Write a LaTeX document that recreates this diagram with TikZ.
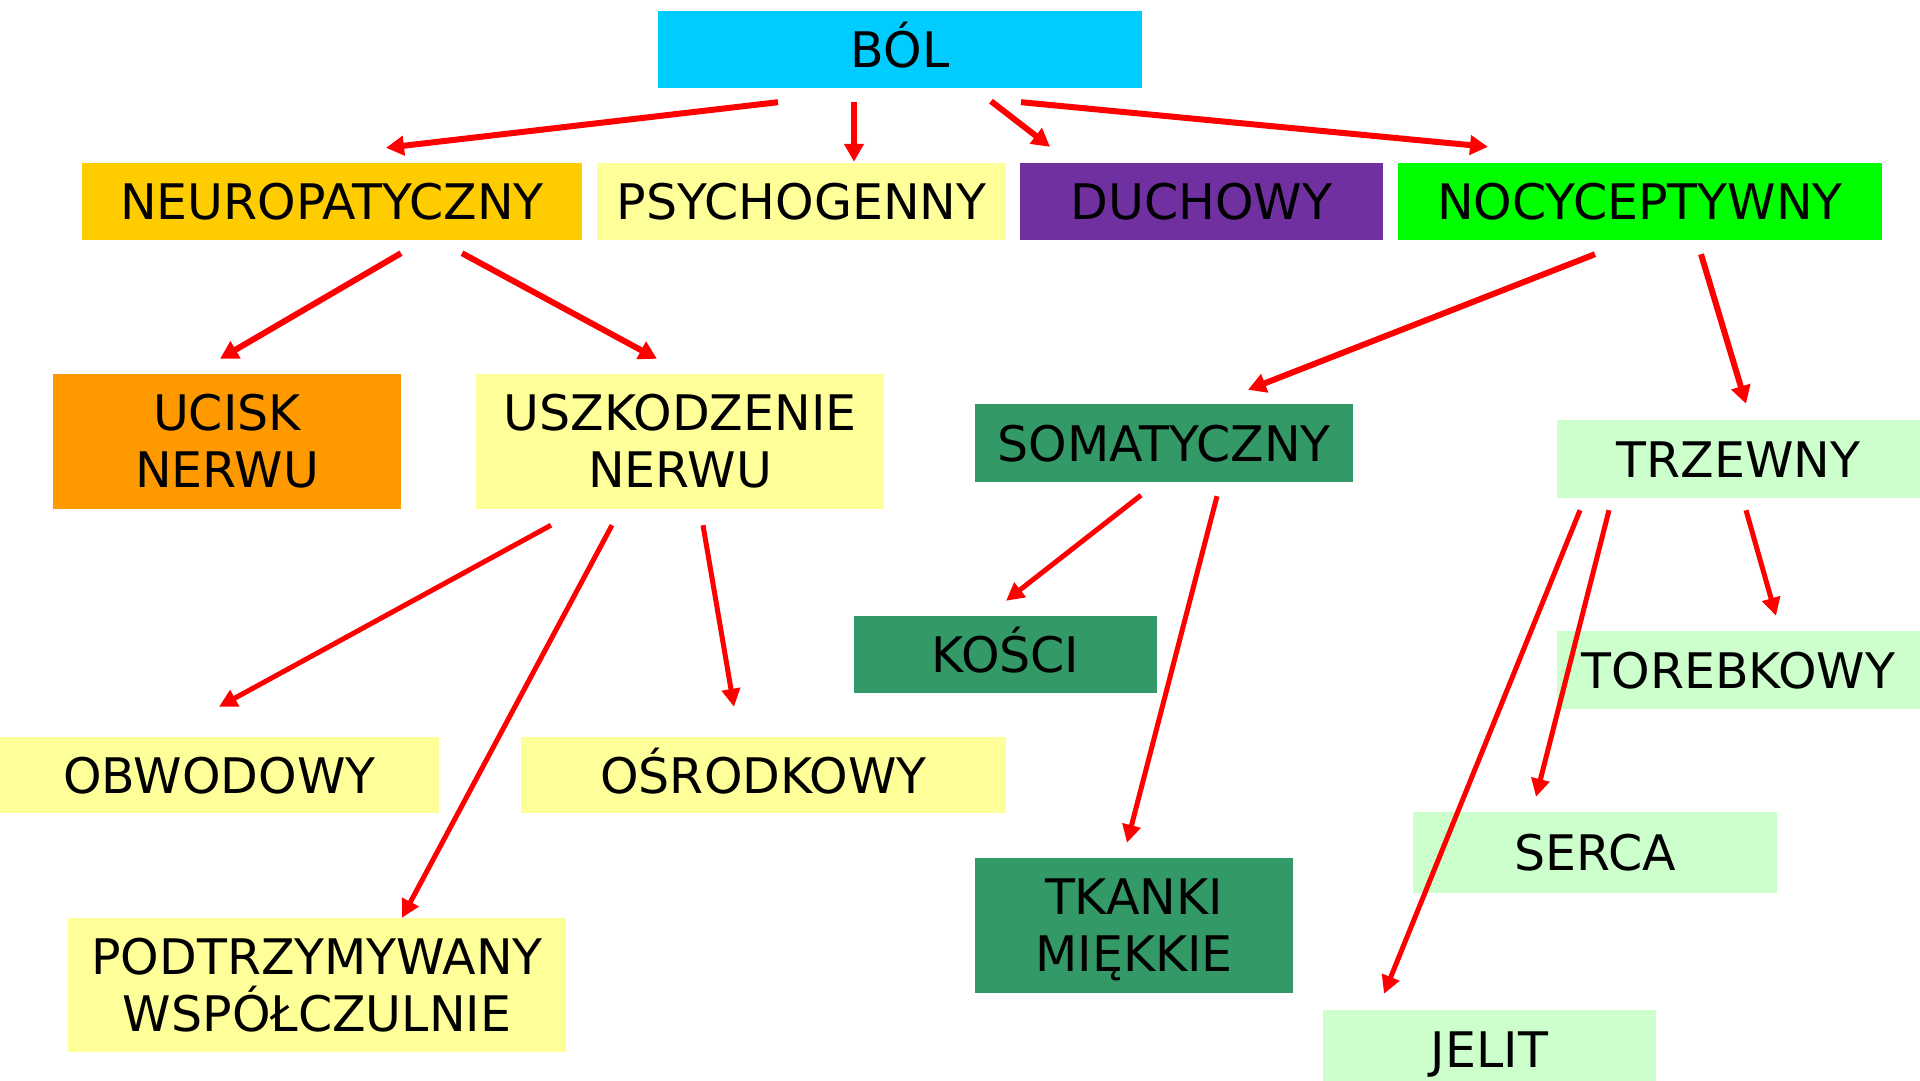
\documentclass[tikz,border=0pt]{standalone}
\usepackage{fontspec}
\setmainfont{DejaVu Sans}
\usetikzlibrary{arrows.meta}
\definecolor{cBol}{HTML}{00CCFF}
\definecolor{cNeuro}{HTML}{FFCC00}
\definecolor{cPale}{HTML}{FFFF99}
\definecolor{cDuch}{HTML}{7030A0}
\definecolor{cNocy}{HTML}{00FF00}
\definecolor{cUcisk}{HTML}{FF9900}
\definecolor{cSoma}{HTML}{339966}
\definecolor{cTrzew}{HTML}{CCFFCC}
\begin{document}
\begin{tikzpicture}[x=1pt,y=-1pt,
  box/.style={draw=none, inner sep=0pt, align=center, text=black,
              font=\fontsize{49}{57}\selectfont},
  oneline/.style={text height=36pt, text depth=0pt},
  sz/.style 2 args={minimum width=#1pt, minimum height=#2pt},
  arrbold/.style={draw=red, line width=6pt, -{Triangle[length=18pt,width=19pt]}},
  arrthin/.style={draw=red, line width=5pt, -{Triangle[length=18pt,width=18pt]}}]
\useasboundingbox (0,0) rectangle (1920,1081);
\clip (0,0) rectangle (1920,1081);

% level 0
\node[box, oneline, fill=cBol, sz={484}{77}] (bol) at (900,49.5) {BÓL};

% level 1
\node[box, oneline, fill=cNeuro, sz={500}{77}] (neuro) at (332,201.5) {NEUROPATYCZNY};
\node[box, oneline, fill=cPale, sz={409}{77}] (psycho) at (801.5,201.5) {PSYCHOGENNY};
\node[box, oneline, fill=cDuch, sz={363}{77}] (duch) at (1201.5,201.5) {DUCHOWY};
\node[box, oneline, fill=cNocy, sz={484}{77}] (nocy) at (1640,201.5) {NOCYCEPTYWNY};

% level 2
\node[box, fill=cUcisk, sz={348}{135}] (ucisk) at (227,441.5) {UCISK\\NERWU};
\node[box, fill=cPale, sz={408}{135}] (uszk) at (680,441.5) {USZKODZENIE\\NERWU};
\node[box, oneline, fill=cSoma, sz={378}{78}] (somat) at (1164,443) {SOMATYCZNY};
\node[box, oneline, fill=cTrzew, sz={363}{78}] (trzew) at (1738.5,459) {TRZEWNY};

% level 3
\node[box, oneline, fill=cSoma, sz={303}{77}] (kosci) at (1005.5,654.5) {KOŚCI};
\node[box, oneline, fill=cPale, sz={439}{76}] (obwod) at (219.5,775) {OBWODOWY};
\node[box, oneline, fill=cPale, sz={485}{76}] (osrod) at (763.5,775) {OŚRODKOWY};
\node[box, fill=cPale, sz={498}{134}] (podtrz) at (317,985) {PODTRZYMYWANY\\WSPÓŁCZULNIE};
\node[box, fill=cSoma, sz={318}{135}] (tkanki) at (1134,925.5) {TKANKI\\MI\smash{Ę}KKIE};
\node[box, oneline, fill=cTrzew, sz={363}{78}] (torebk) at (1738.5,670) {TOREBKOWY};
\node[box, oneline, fill=cTrzew, sz={364}{81}] (serca) at (1595,852.5) {SERCA};
\node[box, oneline, fill=cTrzew, sz={333}{78}] (jelit) at (1489.5,1049) {JELIT};

% connectors from BÓL
\draw[arrbold] ([shift={(-122,14)}]bol.south) -- ([shift={(54,-15)}]neuro.north);
\draw[arrbold] ([shift={(-46,14)}]bol.south) -- ([shift={(52.5,-1)}]psycho.north);
\draw[arrbold] ([shift={(91,13)}]bol.south) -- ([shift={(-151.5,-16)}]duch.north);
\draw[arrbold] ([shift={(121,14)}]bol.south) -- ([shift={(-152,-16)}]nocy.north);

% connectors from NEUROPATYCZNY and NOCYCEPTYWNY
\draw[arrbold] ([shift={(69,13)}]neuro.south) -- ([shift={(-7,-15)}]ucisk.north);
\draw[arrbold] ([shift={(130,13)}]neuro.south) -- ([shift={(-23,-15)}]uszk.north);
\draw[arrbold] ([shift={(-45,14)}]nocy.south) -- ([shift={(84,-14)}]somat.north);
\draw[arrbold] ([shift={(61,14)}]nocy.south) -- ([shift={(7.5,-16)}]trzew.north);

% connectors from USZKODZENIE NERWU
\draw[arrthin] ([shift={(-129,16)}]uszk.south) -- ([shift={(-0.5,-30)}]obwod.north);
\draw[arrthin] ([shift={(-68,16)}]uszk.south) -- ([shift={(85,0)}]podtrz.north);
\draw[arrthin] ([shift={(23,16)}]uszk.south) -- ([shift={(-29.5,-30)}]osrod.north);

% connectors from SOMATYCZNY
\draw[arrthin] ([shift={(-23,13)}]somat.south) -- ([shift={(0.5,-15)}]kosci.north);
\draw[arrthin] ([shift={(53,14)}]somat.south) -- ([shift={(-7,-15)}]tkanki.north);

% connectors from TRZEWNY
\draw[arrthin] ([shift={(7.5,12)}]trzew.south) -- ([shift={(37.5,-15)}]torebk.north);
\draw[arrthin] ([shift={(-129.5,12)}]trzew.south) -- ([shift={(-59,-15)}]serca.north);
\draw[arrthin] ([shift={(-158.5,12)}]trzew.south) -- ([shift={(-105.5,-16)}]jelit.north);
\end{tikzpicture}
\end{document}
